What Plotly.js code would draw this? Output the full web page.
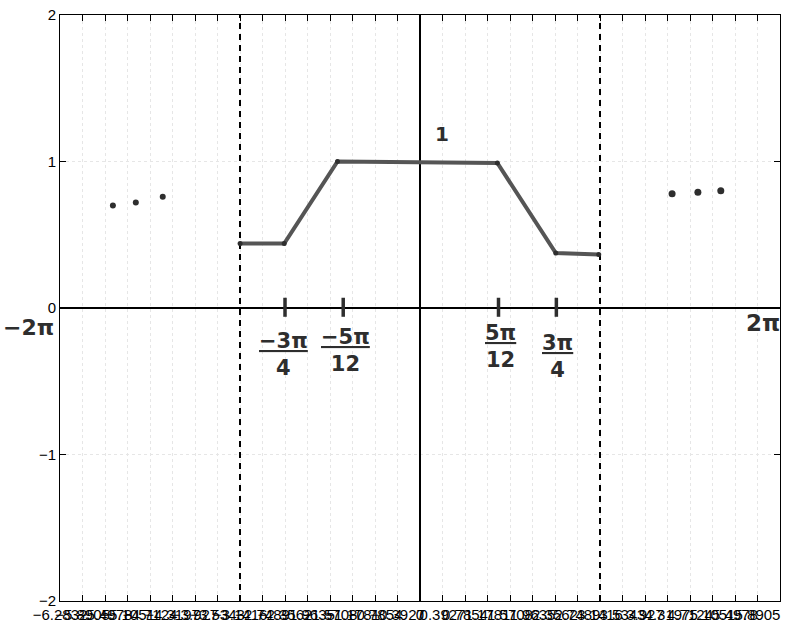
<!DOCTYPE html>
<html>
<head>
<meta charset="utf-8">
<script src="https://cdn.plot.ly/plotly-3.0.1.min.js"></script>
<style>
  html, body { margin: 0; padding: 0; background: #fff; }
  #plot { width: 799px; height: 623px; }
</style>
</head>
<body>
<div id="plot"></div>
<script>
// Sketched response: flat, ramp up, plateau, ramp down, flat
const curveX = [-3.14, -2.37, -1.44, 1.35, 2.37, 3.12];
const curveY = [0.44, 0.44, 1.0, 0.99, 0.375, 0.365];

// "..." continuation dots on both sides
const dotsLeftX = [-5.36, -4.96, -4.49];
const dotsLeftY = [0.70, 0.72, 0.76];
const dotsRightX = [4.40, 4.85, 5.25];
const dotsRightY = [0.78, 0.79, 0.80];

// Period boundaries
const boundaries = [-Math.PI, Math.PI];
const yRange = [-2, 2];

// Small hand ticks on the x axis
const markX = [-2.356, -1.34, 1.37, 2.38];
const markY = [0.07, -0.06];

// Axis ticks
const xTickVals = [
  -6.2832, -5.8905, -5.4978, -5.1051, -4.7124, -4.3197, -3.9270, -3.5343,
  -3.1416, -2.7489, -2.3562, -1.9635, -1.5708, -1.1781, -0.7854, -0.3927,
  0, 0.3927, 0.7854, 1.1781, 1.5708, 1.9635, 2.3562, 2.7489,
  3.1416, 3.5343, 3.9270, 4.3197, 4.7124, 5.1051, 5.4978, 5.8905, 6.2832
];
const xTickText = [
  '\u22126.2832', '\u22125.8905', '\u22125.4978', '\u22125.1051', '\u22124.7124', '\u22124.3197', '\u22123.927', '\u22123.5343',
  '\u22123.1416', '\u22122.7489', '\u22122.3562', '\u22121.9635', '\u22121.5708', '\u22121.1781', '\u22120.7854', '\u22120.3927',
  '0', '0.3927', '0.7854', '1.1781', '1.5708', '1.9635', '2.3562', '2.7489',
  '3.1416', '3.5343', '3.927', '4.3197', '4.7124', '5.1051', '5.4978', '5.8905', '6.2832'
];
const yTickVals = [-2, -1, 0, 1, 2];
const yTickText = ['\u22122', '\u22121', '0', '1', '2'];

// Handwritten labels (the -2π / 2π notes sit at the plot edges, so they use paper x)
const noteText = ['\u22122\u03c0', '2\u03c0', '<u>\u22123\u03c0</u><br>4', '<u>\u22125\u03c0</u><br>12', '<u>5\u03c0</u><br>12', '<u>3\u03c0</u><br>4', '1'];
const noteXref = ['paper', 'paper', 'x', 'x', 'x', 'x', 'x'];
const noteX = [-0.044, 0.977, -2.38, -1.30, 1.40, 2.40, 0.38];
const noteY = [-0.135, -0.1, -0.32, -0.29, -0.26, -0.33, 1.19];
const noteSize = [22, 23, 21, 21, 21, 21, 20];

const ink = '#2e2e2e';

const traces = [];

boundaries.forEach(b => {
  traces.push({
    x: [b, b], y: yRange, mode: 'lines', hoverinfo: 'skip',
    line: { color: '#000', width: 2, dash: '6px,5px' }
  });
});

markX.forEach(m => {
  traces.push({
    x: [m, m], y: markY, mode: 'lines', hoverinfo: 'skip',
    line: { color: ink, width: 3.5 }
  });
});

traces.push({
  x: curveX, y: curveY, mode: 'lines',
  line: { color: '#555', width: 4 }
});
traces.push({
  x: curveX, y: curveY, mode: 'markers',
  marker: { color: ink, size: 5 }
});
traces.push({
  x: dotsLeftX, y: dotsLeftY, mode: 'markers',
  marker: { color: ink, size: 6 }
});
traces.push({
  x: dotsRightX, y: dotsRightY, mode: 'markers',
  marker: { color: ink, size: 7 }
});

const annotations = noteText.map((t, i) => ({
  x: noteX[i], y: noteY[i], xref: noteXref[i], yref: 'y',
  text: '<b>' + t + '</b>', showarrow: false,
  font: { family: 'DejaVu Sans', size: noteSize[i], color: ink },
  xanchor: 'center', yanchor: 'middle'
}));

const layout = {
  width: 799, height: 623,
  margin: { l: 60, r: 19, t: 15, b: 22 },
  paper_bgcolor: '#fff', plot_bgcolor: '#fff',
  showlegend: false,
  font: { family: 'Liberation Sans, Arial, sans-serif', size: 15, color: '#000' },
  xaxis: {
    range: [-6.2832, 6.2832],
    tickmode: 'array', tickvals: xTickVals, ticktext: xTickText,
    tickangle: 0,
    ticks: 'inside', ticklen: 6, tickcolor: '#000', tickwidth: 1,
    showline: true, linecolor: '#000', linewidth: 1, mirror: 'ticks',
    showgrid: true, gridcolor: '#e6e6e6', gridwidth: 1, griddash: 'dot',
    zeroline: true, zerolinecolor: '#000', zerolinewidth: 2,
    tickfont: { size: 15 }, automargin: false, fixedrange: true
  },
  yaxis: {
    range: yRange,
    tickmode: 'array', tickvals: yTickVals, ticktext: yTickText,
    ticks: 'inside', ticklen: 6, tickcolor: '#000', tickwidth: 1,
    showline: true, linecolor: '#000', linewidth: 1, mirror: 'ticks',
    showgrid: true, gridcolor: '#e6e6e6', gridwidth: 1, griddash: 'dot',
    zeroline: true, zerolinecolor: '#000', zerolinewidth: 2,
    tickfont: { size: 15 }, automargin: false, fixedrange: true
  },
  annotations: annotations
};

Plotly.newPlot('plot', traces, layout, { displayModeBar: false, staticPlot: true });
</script>
</body>
</html>
